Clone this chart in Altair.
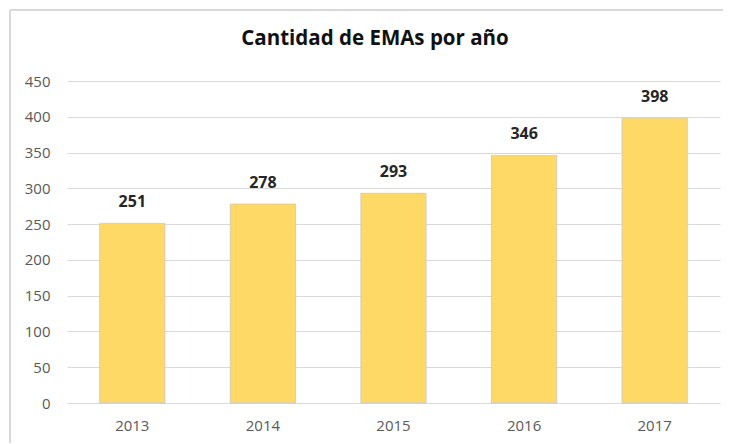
import altair as alt
import pandas as pd

years = ["2013", "2014", "2015", "2016", "2017"]
counts = [251, 278, 293, 346, 398]
title_text = "Cantidad de EMAs por año"

df = pd.DataFrame({"year": years, "count": counts})

FONT = "Open Sans"

base = alt.Chart(df).encode(
    x=alt.X("year:N", sort=years,
            scale=alt.Scale(paddingInner=0.5, paddingOuter=0.25),
            axis=alt.Axis(title=None, labelAngle=0, domain=False, ticks=False,
                          labelPadding=15, labelFontSize=15, labelColor="#595959",
                          labelFont=FONT, grid=False)),
    y=alt.Y("count:Q", scale=alt.Scale(domain=[0, 450], nice=False),
            axis=alt.Axis(title=None, values=list(range(0, 451, 50)), domain=False,
                          ticks=False, labelPadding=17, labelFontSize=15,
                          labelColor="#595959", labelFont=FONT,
                          gridColor="#d9d9d9", gridWidth=1)),
)

bars = base.mark_bar(color="#FFD966", stroke="#c8c8c8", strokeWidth=1, strokeOpacity=0.8)
labels = base.mark_text(dy=-21, fontSize=16, fontWeight="bold", font=FONT,
                        color="#262626").encode(text="count:Q")

frame_top = alt.Chart(df).mark_rule(color="#d9d9d9", strokeWidth=1.5).encode(
    x=alt.value(-57), x2=alt.value(656), y=alt.value(-71))
frame_left = alt.Chart(df).mark_rule(color="#d9d9d9", strokeWidth=1.5).encode(
    x=alt.value(-57), y=alt.value(-71), y2=alt.value(370))

title = alt.Chart(pd.DataFrame({"t": [title_text]})).mark_text(
    font=FONT, fontSize=20.5, fontWeight="bold", color="#111111",
    align="center", baseline="middle").encode(
    x=alt.value(308), y=alt.value(-42), text="t:N")

chart = alt.layer(frame_top, frame_left, bars, labels, title).properties(
    width=653, height=322,
    autosize=alt.AutoSizeParams(type="none"),
    padding={"left": 59, "top": 73, "right": 3, "bottom": 40},
).configure_view(stroke=None)

chart.save("out.html", embed_options={"renderer": "svg", "actions": False})
